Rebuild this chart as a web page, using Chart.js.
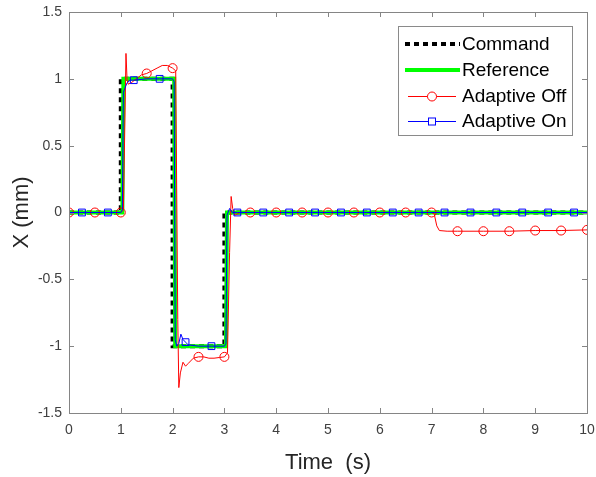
<!DOCTYPE html>
<html>
<head>
<meta charset="utf-8">
<title>Adaptive step response</title>
<script src="https://cdn.jsdelivr.net/npm/chart.js@4.4.0/dist/chart.umd.min.js"></script>
<style>
  html, body { margin: 0; padding: 0; background: #fff; }
  #wrap { width: 596px; height: 477px; }
</style>
</head>
<body>
<div id="wrap"><canvas id="chart" width="596" height="477"></canvas></div>
<script>
// command step
var cmdT = [0, 1, 1, 2, 2, 3, 3, 10];
var cmdX = [0, 0, 1, 1, -1, -1, 0, 0];

// reference (slightly lagged step)
var refT = [0, 1.03, 1.05, 2.03, 2.05, 3.03, 3.05, 10];
var refX = [0, 0, 1, 1, -1, -1, 0, 0];

// adaptive off (red, circles every 0.5 s)
var offT = [0, 0.5, 1.0, 1.05, 1.08, 1.1, 1.12, 1.14, 1.2, 1.3, 1.4, 1.5, 1.6, 1.7, 1.8, 1.9, 2.0,
            2.06, 2.1, 2.12, 2.15, 2.2, 2.25, 2.3, 2.4, 2.5, 2.6, 2.7, 2.8, 2.9, 3.0,
            3.06, 3.1, 3.13, 3.16, 3.2, 3.3, 3.5, 4.0, 4.5, 5.0, 5.5, 6.0, 6.5, 7.0,
            7.05, 7.1, 7.15, 7.3, 7.5, 8.0, 8.5, 9.0, 9.5, 10];
var offX = [0, 0, 0, 0.02, 0.7, 1.19, 1.0, 0.96, 0.97, 1.0, 1.03, 1.04, 1.06, 1.08, 1.1, 1.1, 1.08,
            1.06, -0.8, -1.31, -1.2, -1.12, -1.15, -1.13, -1.09, -1.08, -1.08, -1.09, -1.09, -1.085, -1.08,
            -1.05, -0.3, 0.12, 0.03, -0.02, 0, 0, 0, 0, 0, 0, 0, 0, 0,
            -0.01, -0.1, -0.135, -0.14, -0.14, -0.14, -0.14, -0.135, -0.135, -0.13];

// adaptive on (blue, squares at 0.25 + 0.5k)
var onT = [0, 0.25, 0.75, 1.0, 1.03, 1.05, 1.08, 1.12, 1.18, 1.25, 1.5, 1.75, 2.0,
           2.03, 2.05, 2.08, 2.12, 2.16, 2.2, 2.25, 2.3, 2.5, 2.75, 3.0,
           3.03, 3.05, 3.1, 3.15, 3.25, 3.75, 4.25, 4.75, 5.25, 5.75, 6.25, 6.75,
           7.25, 7.75, 8.25, 8.75, 9.25, 9.75, 10];
var onX = [0, 0, 0, 0, 0.02, 0.9, 0.93, 0.97, 0.99, 0.99, 1.0, 1.0, 1.0,
           0.98, -0.95, -1.0, -0.98, -0.91, -0.95, -0.97, -0.99, -1.0, -1.0, -1.0,
           -0.98, -0.02, 0.03, 0, 0, 0, 0, 0, 0, 0, 0, 0,
           0, 0, 0, 0, 0, 0, 0];

var legendNames = ['Command', 'Reference', 'Adaptive Off', 'Adaptive On'];

function pts(t, x) {
    return t.map(function(v, i){ return {x: v, y: x[i]}; });
}

// only show a marker where t sits on the 0.5 s grid (shifted by offset)
function markAt(offset, r) {
    return function(c) {
        if (!c.raw) return 0;
        var k = (c.raw.x - offset) / 0.5;
        return Math.abs(k - Math.round(k)) < 1e-6 ? r : 0;
    };
}

var boxPlugin = {
    id: 'matlabBox',
    afterDatasetsDraw: function(chart) {
        var ctx = chart.ctx, a = chart.chartArea;
        var xs = chart.scales.x, ys = chart.scales.y;
        ctx.save();
        ctx.strokeStyle = '#858585';
        ctx.lineWidth = 1;
        ctx.strokeRect(Math.round(a.left) + 0.5, Math.round(a.top) + 0.5,
                       Math.round(a.right - a.left), Math.round(a.bottom - a.top));
        ctx.beginPath();
        xs.ticks.forEach(function(t){
            var px = Math.round(xs.getPixelForValue(t.value)) + 0.5;
            ctx.moveTo(px, a.bottom); ctx.lineTo(px, a.bottom - 5);
            ctx.moveTo(px, a.top); ctx.lineTo(px, a.top + 5);
        });
        ys.ticks.forEach(function(t){
            var py = Math.round(ys.getPixelForValue(t.value)) + 0.5;
            ctx.moveTo(a.left, py); ctx.lineTo(a.left + 5, py);
            ctx.moveTo(a.right, py); ctx.lineTo(a.right - 5, py);
        });
        ctx.stroke();

        // legend box
        var lx = 398.5, ly = 26.5, lw = 174, lh = 109;
        ctx.fillStyle = '#fff';
        ctx.fillRect(lx, ly, lw, lh);
        ctx.strokeStyle = '#8a8a8a';
        ctx.strokeRect(lx, ly, lw, lh);
        var rows = [44, 70, 96, 121];
        var ds = chart.data.datasets;
        ctx.font = '19px "Liberation Sans", Arial, sans-serif';
        ctx.textBaseline = 'middle';
        ctx.textAlign = 'left';
        rows.forEach(function(y, i){
            var d = ds[i];
            ctx.save();
            ctx.strokeStyle = d.borderColor;
            ctx.lineWidth = d.borderWidth;
            ctx.setLineDash(d.borderDash || []);
            ctx.beginPath();
            if (i < 2) { ctx.moveTo(405, y); ctx.lineTo(460, y); }
            else { ctx.moveTo(408, y + 0.5); ctx.lineTo(456, y + 0.5); }
            ctx.stroke();
            ctx.setLineDash([]);
            ctx.lineWidth = 1;
            if (i == 2) {
                ctx.beginPath(); ctx.arc(432, y + 0.5, 4.5, 0, Math.PI * 2);
                ctx.fillStyle = '#fff'; ctx.fill(); ctx.stroke();
            } else if (i == 3) {
                ctx.fillStyle = '#fff';
                ctx.fillRect(428.5, y - 3, 7, 7);
                ctx.strokeRect(428.5, y - 3, 7, 7);
            }
            ctx.restore();
            ctx.fillStyle = '#000';
            ctx.fillText(legendNames[i], 462, y + 1);
        });
        ctx.restore();
    }
};

var tickFont = { family: '"Liberation Sans", Arial, sans-serif', size: 14 };
var titleFont = { family: '"Liberation Sans", Arial, sans-serif', size: 22 };

var chart = new Chart(document.getElementById('chart'), {
    type: 'scatter',
    data: {
        datasets: [
            {
                label: legendNames[0], data: pts(cmdT, cmdX), showLine: true,
                borderColor: '#000000', borderWidth: 4, borderDash: [5, 4],
                pointRadius: 0, tension: 0, order: 4
            },
            {
                label: legendNames[1], data: pts(refT, refX), showLine: true,
                borderColor: '#00ff00', borderWidth: 4,
                pointRadius: 0, tension: 0, order: 3
            },
            {
                label: legendNames[2], data: pts(offT, offX), showLine: true,
                borderColor: '#ff0000', borderWidth: 1, tension: 0,
                pointStyle: 'circle', pointRadius: markAt(0, 4.5), pointHoverRadius: markAt(0, 4.5),
                pointBorderColor: '#ff0000', pointBackgroundColor: 'rgba(0,0,0,0)',
                pointBorderWidth: 1, order: 2
            },
            {
                label: legendNames[3], data: pts(onT, onX), showLine: true,
                borderColor: '#0000ff', borderWidth: 1, tension: 0,
                pointStyle: 'rect', pointRadius: markAt(0.25, 4.8), pointHoverRadius: markAt(0.25, 4.8),
                pointBorderColor: '#0000ff', pointBackgroundColor: 'rgba(0,0,0,0)',
                pointBorderWidth: 1, order: 1
            }
        ]
    },
    options: {
        responsive: false,
        animation: false,
        events: [],
        layout: { padding: { top: 12, right: 9, left: 0, bottom: 0 } },
        plugins: {
            legend: { display: false },
            tooltip: { enabled: false }
        },
        scales: {
            x: {
                type: 'linear', min: 0, max: 10,
                grid: { display: false, drawTicks: false },
                border: { display: false },
                ticks: { stepSize: 1, padding: 9, color: '#404040', font: tickFont },
                title: { display: true, text: 'Time  (s)', color: '#262626',
                         padding: { top: 0, bottom: 1 }, font: titleFont },
                afterFit: function(s){ s.height = 64; s.paddingLeft = 0; s.paddingRight = 0; }
            },
            y: {
                type: 'linear', min: -1.5, max: 1.5,
                grid: { display: false, drawTicks: false },
                border: { display: false },
                ticks: { stepSize: 0.5, padding: 7, color: '#404040', font: tickFont,
                         callback: function(v){ return String(Math.round(v * 10) / 10); } },
                title: { display: true, text: 'X (mm)', color: '#262626',
                         padding: { top: 9, bottom: 0 }, font: titleFont },
                afterFit: function(s){ s.width = 69; s.paddingTop = 0; s.paddingBottom = 0; }
            }
        }
    },
    plugins: [boxPlugin]
});
</script>
</body>
</html>
